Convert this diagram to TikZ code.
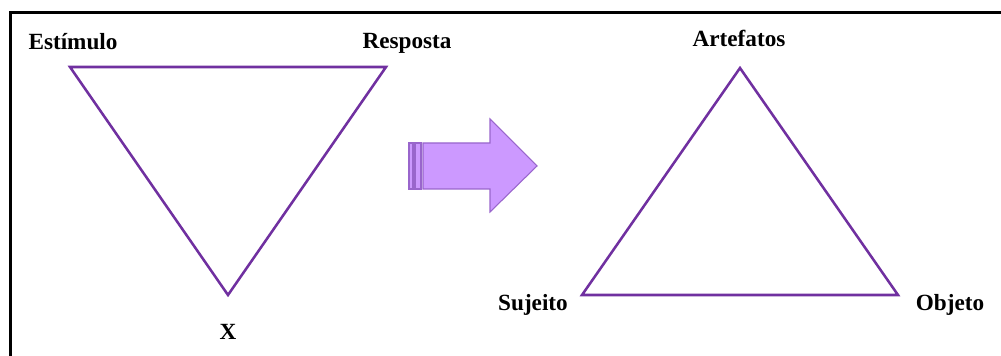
\documentclass[tikz,border=0pt]{standalone}
\usepackage{fontspec}
\setmainfont{Liberation Serif}
\usepackage[dvipsnames]{xcolor}
\definecolor{triline}{RGB}{112,48,160}
\definecolor{arrfill}{RGB}{204,153,255}
\definecolor{arrline}{RGB}{153,102,204}
\tikzset{
  lbl/.style={inner sep=0.75pt, font=\fontsize{17.4}{20}\selectfont\bfseries},
  tri/.style={draw=triline, line width=1.9pt, line join=miter}
}

\begin{document}
\begin{tikzpicture}[x=0.75pt,y=0.75pt,yscale=-1,xscale=1]
            \useasboundingbox (0,0) rectangle (1001,356);
            % frame
            \draw [line width=2.2pt]  (10.5,356) -- (10.5,12.5) -- (1001,12.5) ;
            % left triangle
            \coordinate (est) at (70,67) ;
            \coordinate (resp) at (386,67) ;
            \coordinate (xv) at (228,295) ;
            \draw [tri]  (est) -- (resp) -- (xv) -- cycle ;
            % right triangle
            \coordinate (art) at (740,68) ;
            \coordinate (suj) at (582,295) ;
            \coordinate (obj) at (898,295) ;
            \draw [tri]  (art) -- (obj) -- (suj) -- cycle ;
            % arrow
            \draw [fill=arrfill, draw=arrline, line width=0.8pt]  (423,143) -- (490,143) -- (490,119) -- (537,166) -- (490,212) -- (490,189) -- (423,189) -- cycle ;
            \draw [fill=arrfill, draw=arrline, line width=0.8pt]  (409,143) rectangle (413,189) ;
            \draw [fill=arrfill, draw=arrline, line width=0.8pt]  (415,143) rectangle (421,189) ;
            % labels
            \node [lbl] (lest) at (73,42) {Estímulo};
            \node [lbl] (lresp) at (407,43) {Resposta};
            \node [lbl] (lx) at (228,332) {X};
            \node [lbl] (lart) at (739,38) {Artefatos};
            \node [lbl] (lsuj) at (533,305) {Sujeito};
            \node [lbl] (lobj) at (950,305) {Objeto};
        \end{tikzpicture}
\end{document}
